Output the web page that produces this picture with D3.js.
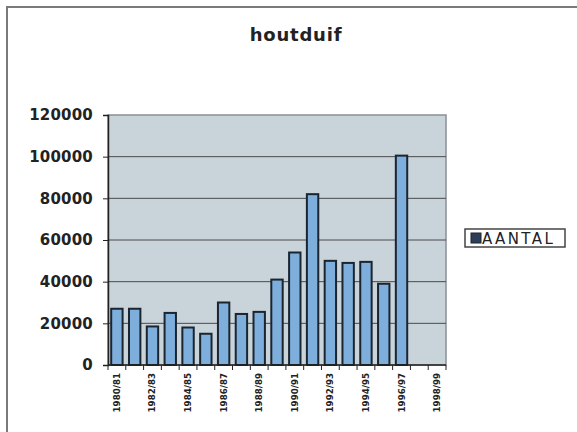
<!DOCTYPE html>
<html lang="nl">
<head>
    <meta charset="UTF-8">
    <title>houtduif</title>
    <script src="https://d3js.org/d3.v7.min.js"></script>
    <style>
        body { margin: 0; background: white; }
        text { font-family: "DejaVu Sans", sans-serif; fill: #222; }
        .grid line { stroke: #4a4a4a; stroke-width: 1; }
        .bar { fill: #7eaedb; stroke: #1b2530; stroke-width: 2; }
    </style>
</head>
<body>
<script>
    const width = 577;
    const height = 432;

    // seasons on the x axis, only every other one gets a label
    const seasons = ["1980/81", "1981/82", "1982/83", "1983/84", "1984/85", "1985/86", "1986/87",
                     "1987/88", "1988/89", "1989/90", "1990/91", "1991/92", "1992/93", "1993/94",
                     "1994/95", "1995/96", "1996/97", "1997/98", "1998/99"];
    const aantal = [27000, 27000, 18500, 25000, 18000, 15000, 30000, 24500, 25500,
                    41000, 54000, 82000, 50000, 49000, 49500, 39000, 100500];
    const yTicks = [0, 20000, 40000, 60000, 80000, 100000, 120000];
    const seriesName = "AANTAL";

    const plot = {left: 108, right: 446, top: 115, bottom: 365};

    const svg = d3.select("body").append("svg")
            .attr("width", width).attr("height", height);

    // chart frame (only top and left edges survive in the scan)
    svg.append("path")
            .attr("d", `M7,${height} V7 H${width}`)
            .attr("fill", "none").attr("stroke", "#7a7a7a").attr("stroke-width", 2);

    const x = d3.scaleBand().domain(seasons)
            .range([plot.left, plot.right]).paddingInner(0.36).paddingOuter(0.18);
    const y = d3.scaleLinear().domain([0, 120000]).range([plot.bottom, plot.top]);

    svg.append("rect")
            .attr("x", plot.left).attr("y", plot.top)
            .attr("width", plot.right - plot.left).attr("height", plot.bottom - plot.top)
            .attr("fill", "#c9d3da").attr("stroke", "#8a8f94").attr("stroke-width", 1.5);

    svg.append("g").attr("class", "grid")
            .selectAll("line").data(yTicks.slice(1, -1)).enter()
            .append("line")
            .attr("x1", plot.left).attr("x2", plot.right)
            .attr("y1", d => y(d)).attr("y2", d => y(d));

    svg.selectAll("rect.bar")
            .data(aantal).enter()
            .append("rect")
            .attr("class", "bar")
            .attr("x", (d, i) => x(seasons[i]))
            .attr("width", x.bandwidth())
            .attr("y", d => y(d))
            .attr("height", d => y(0) - y(d));

    // y axis
    const yAxis = svg.append("g")
            .attr("transform", `translate(${plot.left},0)`)
            .call(d3.axisLeft(y).tickValues(yTicks).tickFormat(d3.format("d"))
                    .tickSize(5).tickPadding(10));
    yAxis.select(".domain").attr("stroke", "#222").attr("stroke-width", 1.5);
    yAxis.selectAll(".tick line").attr("stroke", "#222");
    yAxis.selectAll("text")
            .style("font-size", "15px").style("font-weight", "bold")
            .style("letter-spacing", "0.2px").attr("fill", "#333");

    // x axis: ticks between categories, labels rotated
    const xg = svg.append("g").attr("transform", `translate(0,${plot.bottom})`);
    xg.append("line")
            .attr("x1", plot.left).attr("x2", plot.right)
            .attr("stroke", "#222").attr("stroke-width", 1.5);
    const bounds = d3.range(seasons.length + 1).map(i => plot.left + (plot.right - plot.left) * i / seasons.length);
    xg.selectAll("line.tk").data(bounds).enter()
            .append("line").attr("class", "tk")
            .attr("x1", d => d).attr("x2", d => d)
            .attr("y1", 0).attr("y2", 5)
            .attr("stroke", "#222");
    xg.selectAll("text")
            .data(seasons.filter((d, i) => i % 2 === 0)).enter()
            .append("text")
            .attr("transform", d => `translate(${x(d) + x.bandwidth() / 2 + 3},8) rotate(-90)`)
            .attr("text-anchor", "end")
            .style("font-size", "8.7px").style("font-weight", "bold")
            .text(d => d);

    svg.append("text")
            .attr("x", 296).attr("y", 41)
            .attr("text-anchor", "middle")
            .style("font-size", "18px").style("font-weight", "bold").style("letter-spacing", "0.8px")
            .text("houtduif");

    // legend
    const legend = svg.append("g").attr("transform", "translate(465,229)");
    legend.append("rect")
            .attr("width", 100).attr("height", 18)
            .attr("fill", "white").attr("stroke", "#444").attr("stroke-width", 1.5);
    legend.append("rect")
            .attr("x", 6).attr("y", 4).attr("width", 10).attr("height", 10)
            .attr("fill", "#2d3f58").attr("stroke", "#1b2530");
    legend.append("text")
            .attr("x", 17).attr("y", 14.5)
            .style("font-size", "15px").style("letter-spacing", "2.4px")
            .text(seriesName);
</script>
</body>
</html>
